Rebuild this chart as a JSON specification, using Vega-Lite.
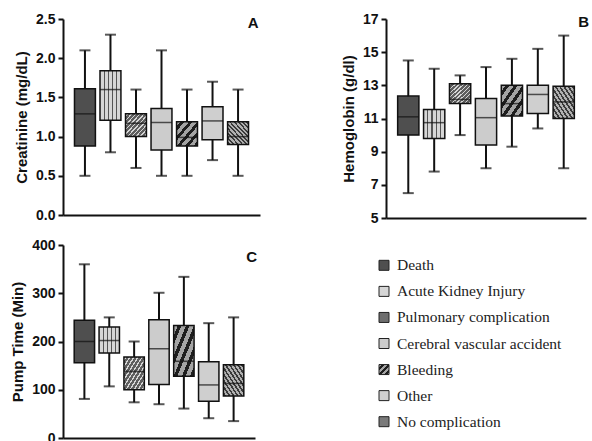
{
  "$schema": "https://vega.github.io/schema/vega-lite/v6.json",
  "background": "white",
  "padding": {"left": 10, "top": 12, "right": 0, "bottom": 0},
  "spacing": 13,
  "datasets": {
    "creat": [
      {"g": "Death", "min": 0.5, "q1": 0.88, "med": 1.29, "q3": 1.61, "max": 2.1},
      {"g": "Acute Kidney Injury", "min": 0.8, "q1": 1.21, "med": 1.6, "q3": 1.84, "max": 2.3},
      {"g": "Pulmonary complication", "min": 0.6, "q1": 1.0, "med": 1.17, "q3": 1.29, "max": 1.6},
      {"g": "Cerebral vascular accident", "min": 0.5, "q1": 0.83, "med": 1.18, "q3": 1.36, "max": 2.1},
      {"g": "Bleeding", "min": 0.5, "q1": 0.88, "med": 0.99, "q3": 1.19, "max": 1.6},
      {"g": "Other", "min": 0.7, "q1": 0.96, "med": 1.2, "q3": 1.38, "max": 1.7},
      {"g": "No complication", "min": 0.5, "q1": 0.9, "med": 1.0, "q3": 1.19, "max": 1.6}
    ],
    "hgb": [
      {"g": "Death", "min": 6.5, "q1": 10.0, "med": 11.1, "q3": 12.35, "max": 14.5},
      {"g": "Acute Kidney Injury", "min": 7.8, "q1": 9.8, "med": 10.75, "q3": 11.55, "max": 14.0},
      {"g": "Pulmonary complication", "min": 10.0, "q1": 11.9, "med": 12.15, "q3": 13.1, "max": 13.6},
      {"g": "Cerebral vascular accident", "min": 8.0, "q1": 9.4, "med": 11.05, "q3": 12.2, "max": 14.1},
      {"g": "Bleeding", "min": 9.3, "q1": 11.15, "med": 11.9, "q3": 13.0, "max": 14.6},
      {"g": "Other", "min": 10.4, "q1": 11.3, "med": 12.45, "q3": 13.0, "max": 15.2},
      {"g": "No complication", "min": 8.0, "q1": 11.0, "med": 12.0, "q3": 12.95, "max": 16.0}
    ],
    "pump": [
      {"g": "Death", "min": 81, "q1": 156, "med": 200, "q3": 244, "max": 360},
      {"g": "Acute Kidney Injury", "min": 107, "q1": 176, "med": 202, "q3": 230, "max": 250},
      {"g": "Pulmonary complication", "min": 74, "q1": 100, "med": 138, "q3": 168, "max": 200},
      {"g": "Cerebral vascular accident", "min": 70, "q1": 111, "med": 185, "q3": 245, "max": 301},
      {"g": "Bleeding", "min": 61, "q1": 128, "med": 159, "q3": 233, "max": 334},
      {"g": "Other", "min": 41, "q1": 76, "med": 110, "q3": 158, "max": 238},
      {"g": "No complication", "min": 35, "q1": 87, "med": 113, "q3": 152, "max": 250}
    ],
    "letterA": [{"t": "A"}],
    "letterB": [{"t": "B"}],
    "letterC": [{"t": "C"}]
  },
  "vconcat": [
    {
      "spacing": 81,
      "hconcat": [
        {
          "width": 197, "height": 196,
          "data": {"name": "creat"},
          "encoding": {"x": {"field": "g", "type": "nominal", "sort": ["Death","Acute Kidney Injury","Pulmonary complication","Cerebral vascular accident","Bleeding","Other","No complication"], "scale": {"paddingInner": 0.18, "paddingOuter": 0.45}, "axis": {"title": null, "labels": false, "ticks": false}}},
          "layer": [
            {"mark": {"type": "rule", "color": "#111", "strokeWidth": 2}, "encoding": {"y": {"field": "min", "type": "quantitative", "title": "Creatinine (mg/dL)", "scale": {"domain": [0, 2.5], "nice": false}, "axis": {"values": [0, 0.5, 1, 1.5, 2, 2.5], "format": ".1f", "labelOverlap": false}}, "y2": {"field": "max"}}},
            {"mark": {"type": "tick", "color": "#111", "thickness": 2, "size": 11}, "encoding": {"y": {"field": "min", "type": "quantitative", "title": "Creatinine (mg/dL)", "axis": {"values": [0, 0.5, 1, 1.5, 2, 2.5], "format": ".1f", "labelOverlap": false}}}},
            {"mark": {"type": "tick", "color": "#111", "thickness": 2, "size": 11}, "encoding": {"y": {"field": "max", "type": "quantitative", "title": "Creatinine (mg/dL)", "axis": {"values": [0, 0.5, 1, 1.5, 2, 2.5], "format": ".1f", "labelOverlap": false}}}},
            {"mark": {"type": "bar", "stroke": "#111", "strokeWidth": 1.5}, "encoding": {"y": {"field": "q1", "type": "quantitative", "title": "Creatinine (mg/dL)", "axis": {"values": [0, 0.5, 1, 1.5, 2, 2.5], "format": ".1f", "labelOverlap": false}}, "y2": {"field": "q3"},
              "fill": {"condition": [
                {"test": "datum.g==='Acute Kidney Injury'", "value": {"gradient": "linear", "x1": 0, "y1": 0, "x2": 1, "y2": 0, "stops": [{"offset":0,"color":"#d6d6d6"},{"offset":0.17,"color":"#d6d6d6"},{"offset":0.17,"color":"#555555"},{"offset":0.23,"color":"#555555"},{"offset":0.23,"color":"#d6d6d6"},{"offset":0.37,"color":"#d6d6d6"},{"offset":0.37,"color":"#555555"},{"offset":0.43,"color":"#555555"},{"offset":0.43,"color":"#d6d6d6"},{"offset":0.57,"color":"#d6d6d6"},{"offset":0.57,"color":"#555555"},{"offset":0.63,"color":"#555555"},{"offset":0.63,"color":"#d6d6d6"},{"offset":0.77,"color":"#d6d6d6"},{"offset":0.77,"color":"#555555"},{"offset":0.83,"color":"#555555"},{"offset":0.83,"color":"#d6d6d6"},{"offset":1,"color":"#d6d6d6"}]}},
                {"test": "datum.g==='Pulmonary complication'", "value": {"gradient": "linear", "x1": 0, "y1": 0, "x2": 1, "y2": 1, "stops": [{"offset":0,"color":"#5e5e5e"},{"offset":0.03,"color":"#5e5e5e"},{"offset":0.03,"color":"#d6d6d6"},{"offset":0.065,"color":"#d6d6d6"},{"offset":0.065,"color":"#5e5e5e"},{"offset":0.13,"color":"#5e5e5e"},{"offset":0.13,"color":"#d6d6d6"},{"offset":0.165,"color":"#d6d6d6"},{"offset":0.165,"color":"#5e5e5e"},{"offset":0.23,"color":"#5e5e5e"},{"offset":0.23,"color":"#d6d6d6"},{"offset":0.265,"color":"#d6d6d6"},{"offset":0.265,"color":"#5e5e5e"},{"offset":0.33,"color":"#5e5e5e"},{"offset":0.33,"color":"#d6d6d6"},{"offset":0.365,"color":"#d6d6d6"},{"offset":0.365,"color":"#5e5e5e"},{"offset":0.43,"color":"#5e5e5e"},{"offset":0.43,"color":"#d6d6d6"},{"offset":0.465,"color":"#d6d6d6"},{"offset":0.465,"color":"#5e5e5e"},{"offset":0.53,"color":"#5e5e5e"},{"offset":0.53,"color":"#d6d6d6"},{"offset":0.565,"color":"#d6d6d6"},{"offset":0.565,"color":"#5e5e5e"},{"offset":0.63,"color":"#5e5e5e"},{"offset":0.63,"color":"#d6d6d6"},{"offset":0.665,"color":"#d6d6d6"},{"offset":0.665,"color":"#5e5e5e"},{"offset":0.73,"color":"#5e5e5e"},{"offset":0.73,"color":"#d6d6d6"},{"offset":0.765,"color":"#d6d6d6"},{"offset":0.765,"color":"#5e5e5e"},{"offset":0.83,"color":"#5e5e5e"},{"offset":0.83,"color":"#d6d6d6"},{"offset":0.865,"color":"#d6d6d6"},{"offset":0.865,"color":"#5e5e5e"},{"offset":0.93,"color":"#5e5e5e"},{"offset":0.93,"color":"#d6d6d6"},{"offset":0.965,"color":"#d6d6d6"},{"offset":0.965,"color":"#5e5e5e"},{"offset":1,"color":"#5e5e5e"}]}},
                {"test": "datum.g==='Cerebral vascular accident'", "value": "#cccccc"},
                {"test": "datum.g==='Bleeding'", "value": {"gradient": "linear", "x1": 0, "y1": 0, "x2": 1, "y2": 1, "stops": [{"offset":0,"color":"#a4a4a4"},{"offset":0.1,"color":"#a4a4a4"},{"offset":0.1,"color":"#1e1e1e"},{"offset":0.19,"color":"#1e1e1e"},{"offset":0.19,"color":"#a4a4a4"},{"offset":0.3,"color":"#a4a4a4"},{"offset":0.3,"color":"#1e1e1e"},{"offset":0.39,"color":"#1e1e1e"},{"offset":0.39,"color":"#a4a4a4"},{"offset":0.5,"color":"#a4a4a4"},{"offset":0.5,"color":"#1e1e1e"},{"offset":0.59,"color":"#1e1e1e"},{"offset":0.59,"color":"#a4a4a4"},{"offset":0.7,"color":"#a4a4a4"},{"offset":0.7,"color":"#1e1e1e"},{"offset":0.79,"color":"#1e1e1e"},{"offset":0.79,"color":"#a4a4a4"},{"offset":0.9,"color":"#a4a4a4"},{"offset":0.9,"color":"#1e1e1e"},{"offset":0.99,"color":"#1e1e1e"},{"offset":0.99,"color":"#a4a4a4"},{"offset":1,"color":"#a4a4a4"}]}},
                {"test": "datum.g==='Other'", "value": "#cfcfcf"},
                {"test": "datum.g==='No complication'", "value": {"gradient": "linear", "x1": 0, "y1": 1, "x2": 1, "y2": 0, "stops": [{"offset":0,"color":"#b0b0b0"},{"offset":0.03,"color":"#b0b0b0"},{"offset":0.03,"color":"#3a3a3a"},{"offset":0.075,"color":"#3a3a3a"},{"offset":0.075,"color":"#b0b0b0"},{"offset":0.13,"color":"#b0b0b0"},{"offset":0.13,"color":"#3a3a3a"},{"offset":0.175,"color":"#3a3a3a"},{"offset":0.175,"color":"#b0b0b0"},{"offset":0.23,"color":"#b0b0b0"},{"offset":0.23,"color":"#3a3a3a"},{"offset":0.275,"color":"#3a3a3a"},{"offset":0.275,"color":"#b0b0b0"},{"offset":0.33,"color":"#b0b0b0"},{"offset":0.33,"color":"#3a3a3a"},{"offset":0.375,"color":"#3a3a3a"},{"offset":0.375,"color":"#b0b0b0"},{"offset":0.43,"color":"#b0b0b0"},{"offset":0.43,"color":"#3a3a3a"},{"offset":0.475,"color":"#3a3a3a"},{"offset":0.475,"color":"#b0b0b0"},{"offset":0.53,"color":"#b0b0b0"},{"offset":0.53,"color":"#3a3a3a"},{"offset":0.575,"color":"#3a3a3a"},{"offset":0.575,"color":"#b0b0b0"},{"offset":0.63,"color":"#b0b0b0"},{"offset":0.63,"color":"#3a3a3a"},{"offset":0.675,"color":"#3a3a3a"},{"offset":0.675,"color":"#b0b0b0"},{"offset":0.73,"color":"#b0b0b0"},{"offset":0.73,"color":"#3a3a3a"},{"offset":0.775,"color":"#3a3a3a"},{"offset":0.775,"color":"#b0b0b0"},{"offset":0.83,"color":"#b0b0b0"},{"offset":0.83,"color":"#3a3a3a"},{"offset":0.875,"color":"#3a3a3a"},{"offset":0.875,"color":"#b0b0b0"},{"offset":0.93,"color":"#b0b0b0"},{"offset":0.93,"color":"#3a3a3a"},{"offset":0.975,"color":"#3a3a3a"},{"offset":0.975,"color":"#b0b0b0"},{"offset":1,"color":"#b0b0b0"}]}}
              ], "value": "#4f4f4f"}}},
            {"mark": {"type": "tick", "color": "#111", "thickness": 1.5, "size": 21}, "encoding": {"y": {"field": "med", "type": "quantitative", "title": "Creatinine (mg/dL)", "axis": {"values": [0, 0.5, 1, 1.5, 2, 2.5], "format": ".1f", "labelOverlap": false}}}},
            {"data": {"name": "letterA"}, "mark": {"type": "text", "fontSize": 15, "fontWeight": "bold", "color": "#111", "dx": 15, "baseline": "middle"}, "encoding": {"x": {"datum": "No complication"}, "y": {"datum": 2.45, "type": "quantitative", "title": "Creatinine (mg/dL)", "axis": {"values": [0, 0.5, 1, 1.5, 2, 2.5], "format": ".1f", "labelOverlap": false}}, "text": {"field": "t"}}}
          ]
        },
        {
          "width": 200, "height": 199,
          "data": {"name": "hgb"},
          "encoding": {"x": {"field": "g", "type": "nominal", "sort": ["Death","Acute Kidney Injury","Pulmonary complication","Cerebral vascular accident","Bleeding","Other","No complication"], "scale": {"paddingInner": 0.18, "paddingOuter": 0.45}, "axis": {"title": null, "labels": false, "ticks": false}}},
          "layer": [
            {"mark": {"type": "rule", "color": "#111", "strokeWidth": 2}, "encoding": {"y": {"field": "min", "type": "quantitative", "title": "Hemoglobin (g/dl)", "scale": {"domain": [5, 17], "nice": false, "zero": false}, "axis": {"values": [5, 7, 9, 11, 13, 15, 17], "labelOverlap": false}}, "y2": {"field": "max"}}},
            {"mark": {"type": "tick", "color": "#111", "thickness": 2, "size": 11}, "encoding": {"y": {"field": "min", "type": "quantitative", "title": "Hemoglobin (g/dl)", "axis": {"values": [5, 7, 9, 11, 13, 15, 17], "labelOverlap": false}}}},
            {"mark": {"type": "tick", "color": "#111", "thickness": 2, "size": 11}, "encoding": {"y": {"field": "max", "type": "quantitative", "title": "Hemoglobin (g/dl)", "axis": {"values": [5, 7, 9, 11, 13, 15, 17], "labelOverlap": false}}}},
            {"mark": {"type": "bar", "stroke": "#111", "strokeWidth": 1.5}, "encoding": {"y": {"field": "q1", "type": "quantitative", "title": "Hemoglobin (g/dl)", "axis": {"values": [5, 7, 9, 11, 13, 15, 17], "labelOverlap": false}}, "y2": {"field": "q3"},
              "fill": {"condition": [
                {"test": "datum.g==='Acute Kidney Injury'", "value": {"gradient": "linear", "x1": 0, "y1": 0, "x2": 1, "y2": 0, "stops": [{"offset":0,"color":"#d6d6d6"},{"offset":0.17,"color":"#d6d6d6"},{"offset":0.17,"color":"#555555"},{"offset":0.23,"color":"#555555"},{"offset":0.23,"color":"#d6d6d6"},{"offset":0.37,"color":"#d6d6d6"},{"offset":0.37,"color":"#555555"},{"offset":0.43,"color":"#555555"},{"offset":0.43,"color":"#d6d6d6"},{"offset":0.57,"color":"#d6d6d6"},{"offset":0.57,"color":"#555555"},{"offset":0.63,"color":"#555555"},{"offset":0.63,"color":"#d6d6d6"},{"offset":0.77,"color":"#d6d6d6"},{"offset":0.77,"color":"#555555"},{"offset":0.83,"color":"#555555"},{"offset":0.83,"color":"#d6d6d6"},{"offset":1,"color":"#d6d6d6"}]}},
                {"test": "datum.g==='Pulmonary complication'", "value": {"gradient": "linear", "x1": 0, "y1": 0, "x2": 1, "y2": 1, "stops": [{"offset":0,"color":"#5e5e5e"},{"offset":0.03,"color":"#5e5e5e"},{"offset":0.03,"color":"#d6d6d6"},{"offset":0.065,"color":"#d6d6d6"},{"offset":0.065,"color":"#5e5e5e"},{"offset":0.13,"color":"#5e5e5e"},{"offset":0.13,"color":"#d6d6d6"},{"offset":0.165,"color":"#d6d6d6"},{"offset":0.165,"color":"#5e5e5e"},{"offset":0.23,"color":"#5e5e5e"},{"offset":0.23,"color":"#d6d6d6"},{"offset":0.265,"color":"#d6d6d6"},{"offset":0.265,"color":"#5e5e5e"},{"offset":0.33,"color":"#5e5e5e"},{"offset":0.33,"color":"#d6d6d6"},{"offset":0.365,"color":"#d6d6d6"},{"offset":0.365,"color":"#5e5e5e"},{"offset":0.43,"color":"#5e5e5e"},{"offset":0.43,"color":"#d6d6d6"},{"offset":0.465,"color":"#d6d6d6"},{"offset":0.465,"color":"#5e5e5e"},{"offset":0.53,"color":"#5e5e5e"},{"offset":0.53,"color":"#d6d6d6"},{"offset":0.565,"color":"#d6d6d6"},{"offset":0.565,"color":"#5e5e5e"},{"offset":0.63,"color":"#5e5e5e"},{"offset":0.63,"color":"#d6d6d6"},{"offset":0.665,"color":"#d6d6d6"},{"offset":0.665,"color":"#5e5e5e"},{"offset":0.73,"color":"#5e5e5e"},{"offset":0.73,"color":"#d6d6d6"},{"offset":0.765,"color":"#d6d6d6"},{"offset":0.765,"color":"#5e5e5e"},{"offset":0.83,"color":"#5e5e5e"},{"offset":0.83,"color":"#d6d6d6"},{"offset":0.865,"color":"#d6d6d6"},{"offset":0.865,"color":"#5e5e5e"},{"offset":0.93,"color":"#5e5e5e"},{"offset":0.93,"color":"#d6d6d6"},{"offset":0.965,"color":"#d6d6d6"},{"offset":0.965,"color":"#5e5e5e"},{"offset":1,"color":"#5e5e5e"}]}},
                {"test": "datum.g==='Cerebral vascular accident'", "value": "#cccccc"},
                {"test": "datum.g==='Bleeding'", "value": {"gradient": "linear", "x1": 0, "y1": 0, "x2": 1, "y2": 1, "stops": [{"offset":0,"color":"#a4a4a4"},{"offset":0.1,"color":"#a4a4a4"},{"offset":0.1,"color":"#1e1e1e"},{"offset":0.19,"color":"#1e1e1e"},{"offset":0.19,"color":"#a4a4a4"},{"offset":0.3,"color":"#a4a4a4"},{"offset":0.3,"color":"#1e1e1e"},{"offset":0.39,"color":"#1e1e1e"},{"offset":0.39,"color":"#a4a4a4"},{"offset":0.5,"color":"#a4a4a4"},{"offset":0.5,"color":"#1e1e1e"},{"offset":0.59,"color":"#1e1e1e"},{"offset":0.59,"color":"#a4a4a4"},{"offset":0.7,"color":"#a4a4a4"},{"offset":0.7,"color":"#1e1e1e"},{"offset":0.79,"color":"#1e1e1e"},{"offset":0.79,"color":"#a4a4a4"},{"offset":0.9,"color":"#a4a4a4"},{"offset":0.9,"color":"#1e1e1e"},{"offset":0.99,"color":"#1e1e1e"},{"offset":0.99,"color":"#a4a4a4"},{"offset":1,"color":"#a4a4a4"}]}},
                {"test": "datum.g==='Other'", "value": "#cfcfcf"},
                {"test": "datum.g==='No complication'", "value": {"gradient": "linear", "x1": 0, "y1": 1, "x2": 1, "y2": 0, "stops": [{"offset":0,"color":"#b0b0b0"},{"offset":0.03,"color":"#b0b0b0"},{"offset":0.03,"color":"#3a3a3a"},{"offset":0.075,"color":"#3a3a3a"},{"offset":0.075,"color":"#b0b0b0"},{"offset":0.13,"color":"#b0b0b0"},{"offset":0.13,"color":"#3a3a3a"},{"offset":0.175,"color":"#3a3a3a"},{"offset":0.175,"color":"#b0b0b0"},{"offset":0.23,"color":"#b0b0b0"},{"offset":0.23,"color":"#3a3a3a"},{"offset":0.275,"color":"#3a3a3a"},{"offset":0.275,"color":"#b0b0b0"},{"offset":0.33,"color":"#b0b0b0"},{"offset":0.33,"color":"#3a3a3a"},{"offset":0.375,"color":"#3a3a3a"},{"offset":0.375,"color":"#b0b0b0"},{"offset":0.43,"color":"#b0b0b0"},{"offset":0.43,"color":"#3a3a3a"},{"offset":0.475,"color":"#3a3a3a"},{"offset":0.475,"color":"#b0b0b0"},{"offset":0.53,"color":"#b0b0b0"},{"offset":0.53,"color":"#3a3a3a"},{"offset":0.575,"color":"#3a3a3a"},{"offset":0.575,"color":"#b0b0b0"},{"offset":0.63,"color":"#b0b0b0"},{"offset":0.63,"color":"#3a3a3a"},{"offset":0.675,"color":"#3a3a3a"},{"offset":0.675,"color":"#b0b0b0"},{"offset":0.73,"color":"#b0b0b0"},{"offset":0.73,"color":"#3a3a3a"},{"offset":0.775,"color":"#3a3a3a"},{"offset":0.775,"color":"#b0b0b0"},{"offset":0.83,"color":"#b0b0b0"},{"offset":0.83,"color":"#3a3a3a"},{"offset":0.875,"color":"#3a3a3a"},{"offset":0.875,"color":"#b0b0b0"},{"offset":0.93,"color":"#b0b0b0"},{"offset":0.93,"color":"#3a3a3a"},{"offset":0.975,"color":"#3a3a3a"},{"offset":0.975,"color":"#b0b0b0"},{"offset":1,"color":"#b0b0b0"}]}}
              ], "value": "#4f4f4f"}}},
            {"mark": {"type": "tick", "color": "#111", "thickness": 1.5, "size": 21}, "encoding": {"y": {"field": "med", "type": "quantitative", "title": "Hemoglobin (g/dl)", "axis": {"values": [5, 7, 9, 11, 13, 15, 17], "labelOverlap": false}}}},
            {"data": {"name": "letterB"}, "mark": {"type": "text", "fontSize": 15, "fontWeight": "bold", "color": "#111", "dx": 20, "baseline": "middle"}, "encoding": {"x": {"datum": "No complication"}, "y": {"datum": 16.8, "type": "quantitative", "title": "Hemoglobin (g/dl)", "axis": {"values": [5, 7, 9, 11, 13, 15, 17], "labelOverlap": false}}, "text": {"field": "t"}}}
          ]
        }
      ]
    },
    {
      "spacing": 119,
      "hconcat": [
        {
          "width": 192, "height": 193,
          "data": {"name": "pump"},
          "encoding": {"x": {"field": "g", "type": "nominal", "sort": ["Death","Acute Kidney Injury","Pulmonary complication","Cerebral vascular accident","Bleeding","Other","No complication"], "scale": {"paddingInner": 0.18, "paddingOuter": 0.45}, "axis": {"title": null, "labels": false, "ticks": false}}},
          "layer": [
            {"mark": {"type": "rule", "color": "#111", "strokeWidth": 2}, "encoding": {"y": {"field": "min", "type": "quantitative", "title": "Pump Time (Min)", "scale": {"domain": [0, 400], "nice": false}, "axis": {"values": [0, 100, 200, 300, 400], "labelOverlap": false}}, "y2": {"field": "max"}}},
            {"mark": {"type": "tick", "color": "#111", "thickness": 2, "size": 11}, "encoding": {"y": {"field": "min", "type": "quantitative", "title": "Pump Time (Min)", "axis": {"values": [0, 100, 200, 300, 400], "labelOverlap": false}}}},
            {"mark": {"type": "tick", "color": "#111", "thickness": 2, "size": 11}, "encoding": {"y": {"field": "max", "type": "quantitative", "title": "Pump Time (Min)", "axis": {"values": [0, 100, 200, 300, 400], "labelOverlap": false}}}},
            {"mark": {"type": "bar", "stroke": "#111", "strokeWidth": 1.5}, "encoding": {"y": {"field": "q1", "type": "quantitative", "title": "Pump Time (Min)", "axis": {"values": [0, 100, 200, 300, 400], "labelOverlap": false}}, "y2": {"field": "q3"},
              "fill": {"condition": [
                {"test": "datum.g==='Acute Kidney Injury'", "value": {"gradient": "linear", "x1": 0, "y1": 0, "x2": 1, "y2": 0, "stops": [{"offset":0,"color":"#d6d6d6"},{"offset":0.17,"color":"#d6d6d6"},{"offset":0.17,"color":"#555555"},{"offset":0.23,"color":"#555555"},{"offset":0.23,"color":"#d6d6d6"},{"offset":0.37,"color":"#d6d6d6"},{"offset":0.37,"color":"#555555"},{"offset":0.43,"color":"#555555"},{"offset":0.43,"color":"#d6d6d6"},{"offset":0.57,"color":"#d6d6d6"},{"offset":0.57,"color":"#555555"},{"offset":0.63,"color":"#555555"},{"offset":0.63,"color":"#d6d6d6"},{"offset":0.77,"color":"#d6d6d6"},{"offset":0.77,"color":"#555555"},{"offset":0.83,"color":"#555555"},{"offset":0.83,"color":"#d6d6d6"},{"offset":1,"color":"#d6d6d6"}]}},
                {"test": "datum.g==='Pulmonary complication'", "value": {"gradient": "linear", "x1": 0, "y1": 0, "x2": 1, "y2": 1, "stops": [{"offset":0,"color":"#5e5e5e"},{"offset":0.03,"color":"#5e5e5e"},{"offset":0.03,"color":"#d6d6d6"},{"offset":0.065,"color":"#d6d6d6"},{"offset":0.065,"color":"#5e5e5e"},{"offset":0.13,"color":"#5e5e5e"},{"offset":0.13,"color":"#d6d6d6"},{"offset":0.165,"color":"#d6d6d6"},{"offset":0.165,"color":"#5e5e5e"},{"offset":0.23,"color":"#5e5e5e"},{"offset":0.23,"color":"#d6d6d6"},{"offset":0.265,"color":"#d6d6d6"},{"offset":0.265,"color":"#5e5e5e"},{"offset":0.33,"color":"#5e5e5e"},{"offset":0.33,"color":"#d6d6d6"},{"offset":0.365,"color":"#d6d6d6"},{"offset":0.365,"color":"#5e5e5e"},{"offset":0.43,"color":"#5e5e5e"},{"offset":0.43,"color":"#d6d6d6"},{"offset":0.465,"color":"#d6d6d6"},{"offset":0.465,"color":"#5e5e5e"},{"offset":0.53,"color":"#5e5e5e"},{"offset":0.53,"color":"#d6d6d6"},{"offset":0.565,"color":"#d6d6d6"},{"offset":0.565,"color":"#5e5e5e"},{"offset":0.63,"color":"#5e5e5e"},{"offset":0.63,"color":"#d6d6d6"},{"offset":0.665,"color":"#d6d6d6"},{"offset":0.665,"color":"#5e5e5e"},{"offset":0.73,"color":"#5e5e5e"},{"offset":0.73,"color":"#d6d6d6"},{"offset":0.765,"color":"#d6d6d6"},{"offset":0.765,"color":"#5e5e5e"},{"offset":0.83,"color":"#5e5e5e"},{"offset":0.83,"color":"#d6d6d6"},{"offset":0.865,"color":"#d6d6d6"},{"offset":0.865,"color":"#5e5e5e"},{"offset":0.93,"color":"#5e5e5e"},{"offset":0.93,"color":"#d6d6d6"},{"offset":0.965,"color":"#d6d6d6"},{"offset":0.965,"color":"#5e5e5e"},{"offset":1,"color":"#5e5e5e"}]}},
                {"test": "datum.g==='Cerebral vascular accident'", "value": "#cccccc"},
                {"test": "datum.g==='Bleeding'", "value": {"gradient": "linear", "x1": 0, "y1": 0, "x2": 1, "y2": 1, "stops": [{"offset":0,"color":"#a4a4a4"},{"offset":0.1,"color":"#a4a4a4"},{"offset":0.1,"color":"#1e1e1e"},{"offset":0.19,"color":"#1e1e1e"},{"offset":0.19,"color":"#a4a4a4"},{"offset":0.3,"color":"#a4a4a4"},{"offset":0.3,"color":"#1e1e1e"},{"offset":0.39,"color":"#1e1e1e"},{"offset":0.39,"color":"#a4a4a4"},{"offset":0.5,"color":"#a4a4a4"},{"offset":0.5,"color":"#1e1e1e"},{"offset":0.59,"color":"#1e1e1e"},{"offset":0.59,"color":"#a4a4a4"},{"offset":0.7,"color":"#a4a4a4"},{"offset":0.7,"color":"#1e1e1e"},{"offset":0.79,"color":"#1e1e1e"},{"offset":0.79,"color":"#a4a4a4"},{"offset":0.9,"color":"#a4a4a4"},{"offset":0.9,"color":"#1e1e1e"},{"offset":0.99,"color":"#1e1e1e"},{"offset":0.99,"color":"#a4a4a4"},{"offset":1,"color":"#a4a4a4"}]}},
                {"test": "datum.g==='Other'", "value": "#cfcfcf"},
                {"test": "datum.g==='No complication'", "value": {"gradient": "linear", "x1": 0, "y1": 1, "x2": 1, "y2": 0, "stops": [{"offset":0,"color":"#b0b0b0"},{"offset":0.03,"color":"#b0b0b0"},{"offset":0.03,"color":"#3a3a3a"},{"offset":0.075,"color":"#3a3a3a"},{"offset":0.075,"color":"#b0b0b0"},{"offset":0.13,"color":"#b0b0b0"},{"offset":0.13,"color":"#3a3a3a"},{"offset":0.175,"color":"#3a3a3a"},{"offset":0.175,"color":"#b0b0b0"},{"offset":0.23,"color":"#b0b0b0"},{"offset":0.23,"color":"#3a3a3a"},{"offset":0.275,"color":"#3a3a3a"},{"offset":0.275,"color":"#b0b0b0"},{"offset":0.33,"color":"#b0b0b0"},{"offset":0.33,"color":"#3a3a3a"},{"offset":0.375,"color":"#3a3a3a"},{"offset":0.375,"color":"#b0b0b0"},{"offset":0.43,"color":"#b0b0b0"},{"offset":0.43,"color":"#3a3a3a"},{"offset":0.475,"color":"#3a3a3a"},{"offset":0.475,"color":"#b0b0b0"},{"offset":0.53,"color":"#b0b0b0"},{"offset":0.53,"color":"#3a3a3a"},{"offset":0.575,"color":"#3a3a3a"},{"offset":0.575,"color":"#b0b0b0"},{"offset":0.63,"color":"#b0b0b0"},{"offset":0.63,"color":"#3a3a3a"},{"offset":0.675,"color":"#3a3a3a"},{"offset":0.675,"color":"#b0b0b0"},{"offset":0.73,"color":"#b0b0b0"},{"offset":0.73,"color":"#3a3a3a"},{"offset":0.775,"color":"#3a3a3a"},{"offset":0.775,"color":"#b0b0b0"},{"offset":0.83,"color":"#b0b0b0"},{"offset":0.83,"color":"#3a3a3a"},{"offset":0.875,"color":"#3a3a3a"},{"offset":0.875,"color":"#b0b0b0"},{"offset":0.93,"color":"#b0b0b0"},{"offset":0.93,"color":"#3a3a3a"},{"offset":0.975,"color":"#3a3a3a"},{"offset":0.975,"color":"#b0b0b0"},{"offset":1,"color":"#b0b0b0"}]}}
              ], "value": "#4f4f4f"}}},
            {"mark": {"type": "tick", "color": "#111", "thickness": 1.5, "size": 20}, "encoding": {"y": {"field": "med", "type": "quantitative", "title": "Pump Time (Min)", "axis": {"values": [0, 100, 200, 300, 400], "labelOverlap": false}}}},
            {"data": {"name": "letterC"}, "mark": {"type": "text", "fontSize": 15, "fontWeight": "bold", "color": "#111", "dx": 18, "baseline": "middle"}, "encoding": {"x": {"datum": "No complication"}, "y": {"datum": 376, "type": "quantitative", "title": "Pump Time (Min)", "axis": {"values": [0, 100, 200, 300, 400], "labelOverlap": false}}, "text": {"field": "t"}}}
          ]
        },
        {
          "width": 200, "height": 197,
          "data": {"name": "creat"},
          "encoding": {"y": {"field": "g", "type": "nominal", "sort": ["Death","Acute Kidney Injury","Pulmonary complication","Cerebral vascular accident","Bleeding","Other","No complication"], "scale": {"type": "point", "padding": 0.78}, "axis": null}},
          "layer": [
            {"mark": {"type": "square", "size": 100, "stroke": "#222", "strokeWidth": 1, "opacity": 1},
             "encoding": {"x": {"datum": 7, "type": "quantitative", "scale": {"domain": [0, 200], "nice": false, "zero": false}, "axis": null},
              "fill": {"condition": [
                {"test": "datum.g==='Acute Kidney Injury'", "value": {"gradient": "linear", "x1": 0, "y1": 0, "x2": 1, "y2": 0, "stops": [{"offset":0,"color":"#d6d6d6"},{"offset":0.17,"color":"#d6d6d6"},{"offset":0.17,"color":"#555555"},{"offset":0.23,"color":"#555555"},{"offset":0.23,"color":"#d6d6d6"},{"offset":0.37,"color":"#d6d6d6"},{"offset":0.37,"color":"#555555"},{"offset":0.43,"color":"#555555"},{"offset":0.43,"color":"#d6d6d6"},{"offset":0.57,"color":"#d6d6d6"},{"offset":0.57,"color":"#555555"},{"offset":0.63,"color":"#555555"},{"offset":0.63,"color":"#d6d6d6"},{"offset":0.77,"color":"#d6d6d6"},{"offset":0.77,"color":"#555555"},{"offset":0.83,"color":"#555555"},{"offset":0.83,"color":"#d6d6d6"},{"offset":1,"color":"#d6d6d6"}]}},
                {"test": "datum.g==='Pulmonary complication'", "value": "#6e6e6e"},
                {"test": "datum.g==='Cerebral vascular accident'", "value": "#cccccc"},
                {"test": "datum.g==='Bleeding'", "value": {"gradient": "linear", "x1": 0, "y1": 0, "x2": 1, "y2": 1, "stops": [{"offset":0,"color":"#a4a4a4"},{"offset":0.15,"color":"#a4a4a4"},{"offset":0.15,"color":"#1e1e1e"},{"offset":0.3,"color":"#1e1e1e"},{"offset":0.3,"color":"#a4a4a4"},{"offset":0.45,"color":"#a4a4a4"},{"offset":0.45,"color":"#1e1e1e"},{"offset":0.6,"color":"#1e1e1e"},{"offset":0.6,"color":"#a4a4a4"},{"offset":0.75,"color":"#a4a4a4"},{"offset":0.75,"color":"#1e1e1e"},{"offset":0.9,"color":"#1e1e1e"},{"offset":0.9,"color":"#a4a4a4"},{"offset":1,"color":"#a4a4a4"}]}},
                {"test": "datum.g==='Other'", "value": "#cfcfcf"},
                {"test": "datum.g==='No complication'", "value": "#7a7a7a"}
              ], "value": "#4f4f4f"}}},
            {"mark": {"type": "text", "align": "left", "baseline": "middle", "font": "Liberation Serif", "fontSize": 15.5, "color": "#222"},
             "encoding": {"x": {"datum": 20, "type": "quantitative"}, "text": {"field": "g"}}}
          ]
        }
      ]
    }
  ],
  "config": {
    "view": {"stroke": null},
    "font": "Liberation Sans",
    "axis": {"domainColor": "#111", "domainWidth": 2, "tickColor": "#111", "tickWidth": 2, "tickSize": 5, "labelFont": "Liberation Sans", "labelFontSize": 14, "labelFontWeight": "bold", "labelColor": "#111", "labelPadding": 3, "labelOverlap": false, "titleFont": "Liberation Sans", "titleFontSize": 15, "titleFontWeight": "bold", "titleColor": "#111", "titlePadding": 6, "grid": false}
  }
}
